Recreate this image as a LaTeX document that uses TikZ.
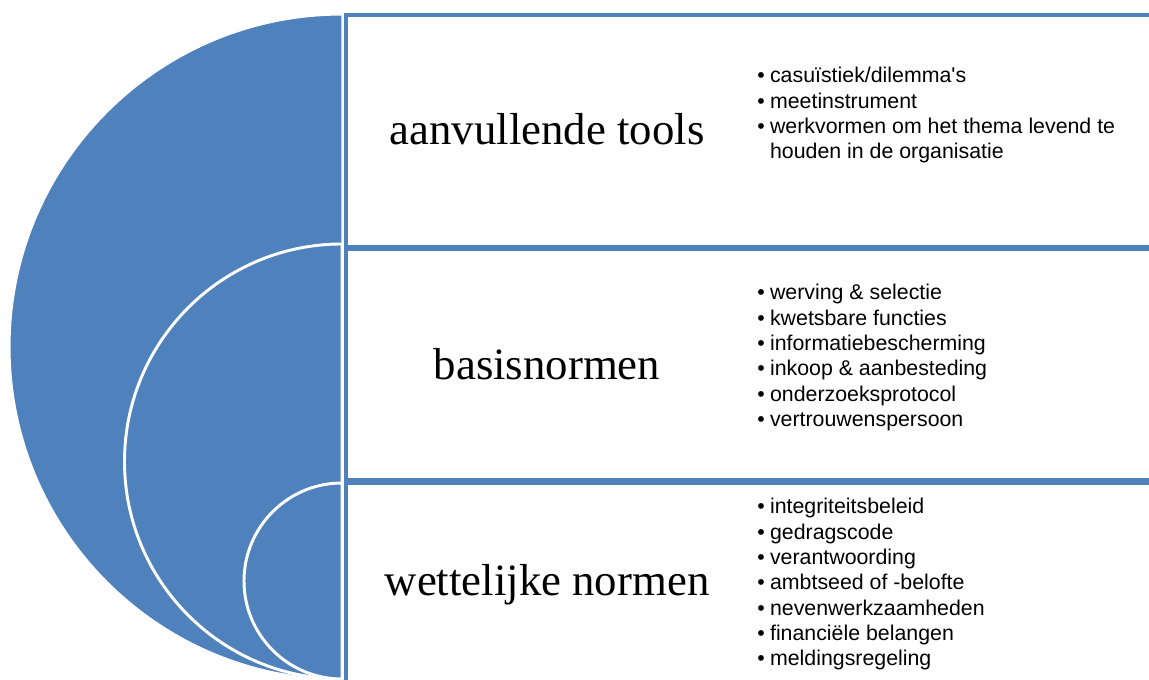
\documentclass[tikz,border=0pt]{standalone}
\usepackage{fontspec}
\setmainfont{Liberation Serif}
\setsansfont{Liberation Sans}
\usepackage{tikz}
\definecolor{office}{HTML}{4F81BD}
\tikzset{
  every node/.style={text=black},
  layer/.style={fill=office,draw=white,line width=2.2pt},
  band/.style={draw=office,line width=3pt,fill=white,minimum width=622pt,inner sep=0pt,anchor=north west},
  title/.style={font=\fontsize{33.6}{38}\selectfont,anchor=base,inner sep=0pt},
  items/.style={font=\sffamily\fontsize{16}{19}\selectfont,inner sep=0pt,anchor=base west}
}
\newcommand{\itemlist}[1]{\begin{tabular}[t]{@{}l@{\hspace{4pt}}l@{}}#1\end{tabular}}

\begin{document}
\begin{tikzpicture}[x=0.75pt,y=0.75pt]
  \useasboundingbox (0,0) rectangle (1149,680);

  \fill[office,draw=white,line width=0.8pt] (342,665) arc[start angle=90,end angle=270,radius=332] -- cycle;
  \path[layer] (342,436) arc[start angle=90,end angle=270,radius=217.5] -- cycle;
  \path[layer] (342,197) arc[start angle=90,end angle=270,radius=98] -- cycle;

  \node[band,minimum height=174pt] (tools) at (343.5,666.5) {};
  \node[band,minimum height=173.6pt] (basis) at (343.5,433) {};
  \node[band,minimum height=149.6pt] (wet) at (343.5,199) {};

  \node[title] (toolsT) at (547,535) {aanvullende tools};
  \node[title] (basisT) at (547,300) {basisnormen};
  \node[title] (wetT) at (547,84) {wettelijke normen};

  \node[items] (toolsL) at (757,597) {\itemlist{
    \textbullet & casuïstiek/dilemma\textquotesingle s\\
    \textbullet & meetinstrument\\
    \textbullet & werkvormen om het thema levend te\\
                & houden in de organisatie}};
  \node[items] (basisL) at (757,380) {\itemlist{
    \textbullet & werving \& selectie\\
    \textbullet & kwetsbare functies\\
    \textbullet & informatiebescherming\\
    \textbullet & inkoop \& aanbesteding\\
    \textbullet & onderzoeksprotocol\\
    \textbullet & vertrouwenspersoon}};
  \node[items] (wetL) at (757,166) {\itemlist{
    \textbullet & integriteitsbeleid\\
    \textbullet & gedragscode\\
    \textbullet & verantwoording\\
    \textbullet & ambtseed of -belofte\\
    \textbullet & nevenwerkzaamheden\\
    \textbullet & financiële belangen\\
    \textbullet & meldingsregeling}};
\end{tikzpicture}
\end{document}
